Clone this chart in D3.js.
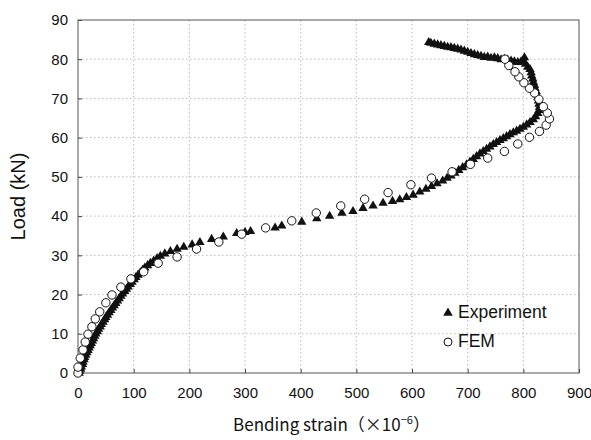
<!DOCTYPE html>
<html lang="en">
<head>
<meta charset="UTF-8">
<title>Load vs bending strain</title>
<script src="https://cdn.jsdelivr.net/npm/d3@7"></script>
<style>
  body { margin: 0; background: #fff; }
  text { font-family: "Liberation Sans", Arial, sans-serif; fill: #111; }
</style>
</head>
<body>
<svg width="591" height="440"></svg>
<script>
// bending strain (x1e-6), load (kN)
var expStrain = [2,3,5,6,8,9,11,12,14,16,18,20,22,24,26,28,30,32,35,37,40,42,45,48,50,53,56,59,62,65,68,71,74,77,80,84,87,90,94,97,101,104,108,112,116,120,125,130,136,142,148,156,166,178,190,205,219,240,261,285,300,310,354,366,402,429,452,474,494,512,530,548,565,578,590,602,614,625,635,645,655,663,670,677,684,691,698,704,710,716,722,728,734,740,746,752,758,764,770,776,782,788,794,800,806,812,818,822,826,828,829,828,827,826,824,823,821,820,818,817,815,814,812,808,804,800,802,796,790,784,778,772,766,760,754,748,742,736,730,724,718,712,706,700,694,688,682,676,670,664,658,652,646,640,634,630];
var expLoad = [0,0.5,1,1.6,2.2,2.8,3.4,4,4.6,5.2,5.8,6.4,7,7.6,8.2,8.8,9.4,10,10.6,11.2,11.8,12.4,13,13.6,14.2,14.8,15.4,16,16.6,17.2,17.8,18.4,19,19.6,20.2,20.8,21.4,22,22.6,23.2,23.8,24.4,25,25.6,26.2,26.8,27.4,28,28.6,29.2,29.8,30.4,31,31.6,32.1,32.7,33.3,34.1,34.7,35.6,35.9,36.1,37,37.5,38.5,39.4,40,40.8,41.2,42,42.6,43.3,43.8,44.2,44.8,45.4,46.2,46.9,47.6,48.3,49,49.7,50.3,51,51.7,52.4,53.1,53.8,54.5,55.2,55.9,56.5,57.1,57.7,58.3,58.8,59.3,59.8,60.3,60.8,61.3,61.7,62.2,62.7,63.3,63.9,64.6,65.4,66.2,67,67.8,68.6,69.4,70.2,71,71.8,72.6,73.4,74.2,75,75.8,76.6,77.4,78,78.8,79.6,80.4,79.4,79.2,79.4,79.6,79.8,80,79.9,80.2,80.4,80.3,80.6,80.5,80.8,81,81.2,81.5,81.8,82.1,82.4,82.6,82.8,83,83.1,83.3,83.5,83.7,83.9,84.1,84.3];

var femStrain = [0,0,4,9,13,18,25,31,39,50,61,77,95,118,144,178,213,253,294,337,384,428,472,515,557,598,635,672,705,736,766,790,811,829,841,847,843,836,828,820,811,801,792,785,774,767];
var femLoad = [0,1.5,3.8,5.9,7.9,9.9,11.8,13.8,15.6,17.9,19.9,21.9,24,25.8,28,29.6,31.6,33.4,35.4,37,38.8,40.8,42.6,44.3,46,48,49.7,51.3,53.2,54.8,56.5,58.4,60.1,61.6,63.2,64.8,66.3,67.9,69.8,71.4,72.6,74,75.5,76.8,78.4,80];

var xTicks = [0,100,200,300,400,500,600,700,800,900];
var yTicks = [0,10,20,30,40,50,60,70,80,90];

var svg = d3.select("svg");
var margin = {left: 78, right: 12, top: 20, bottom: 67};
var width = 591 - margin.left - margin.right;
var height = 440 - margin.top - margin.bottom;

var x = d3.scaleLinear().domain([0, 900]).range([0, width]);
var y = d3.scaleLinear().domain([0, 90]).range([height, 0]);

var g = svg.append("g").attr("transform", "translate(" + margin.left + "," + margin.top + ")");

// dotted grid
g.append("g").selectAll("line").data(xTicks.slice(1, -1)).enter().append("line")
    .attr("x1", d => x(d)).attr("x2", d => x(d))
    .attr("y1", 0).attr("y2", height)
    .attr("stroke", "#aaa").attr("stroke-width", 0.8).attr("stroke-dasharray", "1.5,2.5");
g.append("g").selectAll("line").data(yTicks.slice(1, -1)).enter().append("line")
    .attr("x1", 0).attr("x2", width)
    .attr("y1", d => y(d)).attr("y2", d => y(d))
    .attr("stroke", "#aaa").attr("stroke-width", 0.8).attr("stroke-dasharray", "1.5,2.5");

// axes (ticks point inward)
var xAxis = g.append("g").attr("transform", "translate(0," + height + ")")
    .call(d3.axisBottom(x).tickValues(xTicks).tickSize(-4).tickPadding(14));
var yAxis = g.append("g")
    .call(d3.axisLeft(y).tickValues(yTicks).tickSize(-4).tickPadding(10));
[xAxis, yAxis].forEach(function (a) {
    a.select(".domain").remove();
    a.selectAll("line").attr("stroke", "#444");
    a.selectAll("text").style("font-size", "15px").style("fill", "#111");
});

// frame
g.append("rect").attr("width", width).attr("height", height)
    .attr("fill", "none").attr("stroke", "#555").attr("stroke-width", 1);

// experiment triangles
var tri = d3.symbol().type(d3.symbolTriangle).size(38);
g.append("g").selectAll("path").data(d3.zip(expStrain, expLoad)).enter().append("path")
    .attr("d", tri)
    .attr("transform", d => "translate(" + x(d[0]) + "," + y(d[1]) + ")")
    .attr("fill", "#111");

// FEM circles
g.append("g").selectAll("circle").data(d3.zip(femStrain, femLoad)).enter().append("circle")
    .attr("cx", d => x(d[0])).attr("cy", d => y(d[1]))
    .attr("r", 4.2)
    .attr("fill", "#fff").attr("stroke", "#111").attr("stroke-width", 1);

// legend
var leg = svg.append("g");
leg.append("path").attr("d", d3.symbol().type(d3.symbolTriangle).size(40))
    .attr("transform", "translate(448,313)").attr("fill", "#111");
leg.append("text").attr("x", 458).attr("y", 318).style("font-size", "17.5px").text("Experiment");
leg.append("circle").attr("cx", 448).attr("cy", 342).attr("r", 4)
    .attr("fill", "#fff").attr("stroke", "#111");
leg.append("text").attr("x", 458).attr("y", 347).style("font-size", "17.5px").text("FEM");

// axis titles
svg.append("text")
    .attr("transform", "translate(25," + (margin.top + height / 2) + ") rotate(-90)")
    .attr("text-anchor", "middle").style("font-size", "20px")
    .text("Load (kN)");

var xt = svg.append("text")
    .attr("x", margin.left + width / 2 + 3).attr("y", 431)
    .attr("text-anchor", "middle").style("font-size", "17px")
    .style("font-family", "'Noto Sans CJK JP', sans-serif");
xt.append("tspan").text("Bending strain（×10");
xt.append("tspan").attr("dy", -7).style("font-size", "11px").text("−6");
xt.append("tspan").attr("dy", 7).text("）");
</script>
</body>
</html>
